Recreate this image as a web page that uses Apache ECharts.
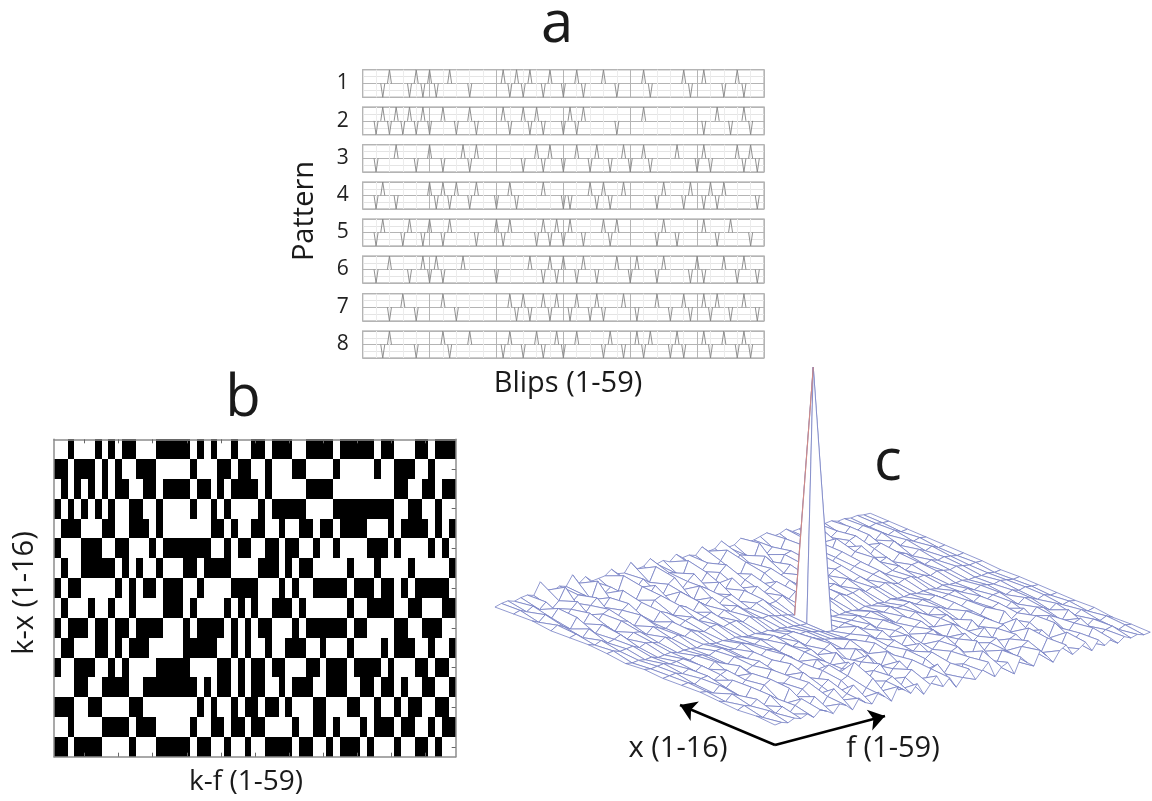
<!DOCTYPE html>
<html>
<head>
<meta charset="utf-8">
<style>html,body{margin:0;padding:0;background:#fff}#c{width:1152px;height:801px}</style>
<script src="https://cdn.jsdelivr.net/npm/echarts@6/dist/echarts.min.js"></script>
</head>
<body>
<div id="c"></div>
<script>
// ---------- Panel a: blip positions (0-based index on the 0..60 axis)
const patternNames = ['1','2','3','4','5','6','7','8'];
const p1Up = [4,8,10,13,21,23,25,28,32,36,42,48,51,56];
const p1Down = [3,7,9,11,16,22,24,27,30,33,38,43,49,54,57];
const p2Up = [3,5,7,9,12,16,21,24,26,31,33,42,53,57];
const p2Down = [2,4,6,8,10,14,17,22,25,27,30,32,38,51,55,58];
const p3Up = [5,10,15,17,26,28,32,35,39,42,47,51,56,58];
const p3Down = [2,8,12,16,24,27,30,34,37,40,43,50,52,57,59];
const p4Up = [3,10,12,14,17,22,27,34,36,39,45,49,52,54];
const p4Down = [2,5,11,13,16,20,23,30,31,35,37,44,48,51,53,59];
const p5Up = [3,7,10,13,20,22,27,29,31,36,38,45,51,55];
const p5Down = [2,6,9,12,17,21,26,28,30,33,37,44,47,53,58];
const p6Up = [4,9,11,15,25,28,30,33,38,41,45,50,54,57];
const p6Down = [2,7,10,12,20,27,29,32,35,40,44,49,51,56,59];
const p7Up = [6,12,22,24,27,29,32,35,39,44,48,51,53,57];
const p7Down = [4,8,14,23,25,28,31,34,36,41,46,49,52,55,59];
const p8Up = [4,12,16,22,26,29,32,37,41,43,47,51,54,57];
const p8Down = [3,8,13,21,24,27,30,36,39,42,46,48,52,56,58];
const allUp = [p1Up,p2Up,p3Up,p4Up,p5Up,p6Up,p7Up,p8Up];
const allDown = [p1Down,p2Down,p3Down,p4Down,p5Down,p6Down,p7Down,p8Down];

// ---------- Panel b: black columns of each of the 16 k-x rows
const r = (a,b)=>{const o=[];for(let i=a;i<=b;i++)o.push(i);return o;};
const bRow0 = [2,6,8,10,11,...r(15,19),21,23,26,29,30,32,33,34,...r(37,40),...r(42,46),48,49,53,54,56,57,58];
const bRow1 = [0,1,3,4,5,7,9,12,13,14,20,24,25,27,28,31,35,36,41,47,50,51,52,55];
const bRow2 = [1,3,5,7,9,10,13,14,...r(16,19),21,22,24,...r(26,29),31,...r(37,40),50,51,54,55,57,58];
const bRow3 = [0,2,4,6,8,11,12,15,20,23,25,30,...r(32,36),...r(41,49),52,53,56];
const bRow4 = [1,2,3,7,8,11,12,13,15,23,24,26,29,30,33,36,37,39,40,42,43,44,45,49,51,52,53,54,56,58];
const bRow5 = [0,4,5,6,9,10,14,...r(16,22),25,27,28,31,32,34,35,38,41,46,47,48,50,55,57];
const bRow6 = [1,...r(4,8),10,12,15,19,20,22,23,24,25,30,31,32,34,36,37,43,47,52,58];
const bRow7 = [0,2,3,9,11,13,14,16,17,18,21,...r(26,29),33,35,...r(38,42),44,45,46,48,49,51,...r(53,57)];
const bRow8 = [1,5,8,11,16,17,18,20,25,27,29,32,33,34,36,43,46,47,48,49,52,53,57,58];
const bRow9 = [0,2,3,4,6,7,9,10,12,13,14,15,19,...r(21,24),26,28,30,31,35,...r(37,42),44,45,50,51,54,55,56];
const bRow10 = [1,2,6,7,9,11,12,13,...r(19,23),26,28,31,34,35,36,39,43,48,50,51,52,55,58];
const bRow11 = [0,3,4,5,8,10,...r(15,19),24,25,27,29,30,32,33,37,38,40,41,42,...r(44,47),49,53,54,56,57];
const bRow12 = [3,4,...r(7,10),...r(13,20),22,24,25,27,29,30,33,35,36,37,40,41,42,45,46,48,49,51,54,55,58];
const bRow13 = [0,1,2,5,6,11,12,21,23,26,28,29,31,32,34,38,39,43,44,47,50,52,53,56,57];
const bRow14 = [2,...r(7,10),12,13,14,20,23,24,26,27,29,30,35,38,39,41,45,47,48,49,51,52,55,57,58];
const bRow15 = [0,1,...r(3,6),11,...r(15,19),21,22,25,28,...r(31,34),36,37,40,42,43,44,46,50,53,54,56];
const bRows = [bRow0,bRow1,bRow2,bRow3,bRow4,bRow5,bRow6,bRow7,bRow8,bRow9,bRow10,bRow11,bRow12,bRow13,bRow14,bRow15];
const kfCategories = r(1,59).map(String);
const kxCategories = r(1,16).map(String);

// ---------- Panel c: estimated surface heights, one array per x row, 59 f values
const z0 = [0,1,-1,2,0,3,-2,4,1,-3,5,2,-4,6,0,-3,7,1,-5,8,3,-2,6,-6,2,9,-3,4,-7,1,8,-4,3,10,-6,2,5,-8,7,0,-5,9,2,-6,4,8,-3,1,6,-4,5,-2,3,-3,2,-1,1,-1,0];
const z1 = [1,-2,3,-1,4,-5,2,7,-3,6,-6,3,9,-4,1,8,-7,2,10,-5,4,7,-8,3,9,-2,-6,5,8,-3,6,-9,2,7,-4,10,-1,-7,6,3,-8,5,9,-3,-6,7,1,-5,8,-2,4,-6,6,-3,1,3,-2,1,0];
const z2 = [-1,2,0,5,-3,6,1,-6,8,-2,4,9,-5,2,7,-8,3,6,18,9,-4,5,10,-7,2,8,-3,6,-9,4,9,-2,-7,5,8,1,-6,9,-3,4,7,-8,3,6,-5,9,-2,4,-6,8,1,-5,3,6,-3,2,-1,2,-1];
const z3 = [0,-2,4,1,-4,6,-3,5,9,-6,2,7,-4,8,1,-7,5,9,-3,2,7,-6,4,9,-2,-5,8,3,-7,5,2,8,-5,-1,6,9,-6,3,7,-4,1,8,-7,4,6,-3,9,-5,2,7,-6,4,1,-4,5,-2,2,-1,1];
const z4 = [1,0,-3,3,-1,5,-4,2,7,-2,-5,6,1,-3,7,-1,4,-6,5,2,-4,7,0,-5,6,3,-2,7,-6,1,5,-3,7,2,-6,4,6,-1,-5,7,3,-4,6,-2,5,1,-6,7,-3,2,5,-4,3,1,-3,2,-1,1,0];
const z5 = [0,1,-2,2,3,-3,1,4,-4,5,-1,2,5,-4,3,-2,5,1,-5,3,4,-3,1,5,-2,-4,4,2,-5,3,-1,5,-3,2,4,-5,1,5,-2,-4,3,5,-1,-4,4,2,-5,3,1,4,-3,2,-2,3,1,-2,1,-1,0];
const z6 = [-1,0,1,-1,2,-2,2,-3,3,0,-3,3,1,-2,3,-3,2,1,-3,3,-1,2,-3,3,0,-2,-3,-4,-5,-3,3,-1,2,-3,3,1,-3,2,-2,3,0,-3,3,1,-2,3,-3,2,-1,3,-2,1,2,-2,1,-1,1,0,0];
const z7 = [0,-1,0,1,-1,0,1,-2,1,0,-2,1,2,-1,-2,2,0,-2,1,-1,2,-2,0,1,-3,-2,-4,-5,-7,-8,-6,-3,-2,1,-2,2,0,-2,2,-1,0,2,-2,1,-1,2,-2,0,2,-1,1,-2,1,0,-1,1,0,-1,0];
const z8 = [-2,-3,-2,-3,-2,-4,-3,-2,-4,-3,-3,-4,-2,-3,-4,-3,-4,-3,-4,-5,-4,-5,-4,-6,-5,-6,-6,-7,-7,248,-7,-7,-6,-6,-5,-5,-6,-4,-5,-4,-5,-3,-4,-4,-3,-4,-3,-3,-4,-2,-3,-3,-2,-3,-2,-2,-1,-2,-1];
const z9 = [0,1,-1,0,1,-2,1,0,-2,2,-1,1,-2,2,0,-2,1,2,-2,0,1,-2,2,-1,-3,-2,-4,-5,-6,-8,-7,-5,-3,-2,1,-2,2,-1,0,2,-2,1,-1,2,0,-2,1,2,-1,0,-2,1,0,-1,1,0,-1,0,0];
const z10 = [1,-1,2,-2,0,3,-3,2,1,-3,3,0,-2,3,-3,1,3,-2,0,3,-3,2,-1,3,-2,-3,1,3,-3,-2,2,-3,3,0,-3,2,3,-2,1,-3,3,-1,2,-3,1,3,-2,0,3,-3,1,2,-2,1,-1,1,0,-1,0];
const z11 = [0,2,-3,4,-2,5,1,-5,4,2,-4,5,-2,-5,4,1,-3,5,2,-5,4,-1,5,-4,2,3,-5,4,-2,5,-3,1,5,-4,3,-2,5,1,-5,4,-2,3,5,-4,1,4,-3,5,-1,2,-4,3,1,-3,2,-1,2,-1,0];
const z12 = [-1,3,0,-4,6,-2,7,-5,3,6,-6,2,7,-3,5,-6,4,7,-2,-5,6,1,-6,7,3,-4,6,-2,7,-5,2,6,-6,4,7,-3,-1,6,-6,3,5,-2,7,-5,2,6,-4,3,7,-6,1,5,-3,4,-2,2,-1,1,0];
const z13 = [1,-2,4,-1,7,-5,3,9,-6,2,8,-3,5,-7,9,1,-4,8,-2,6,-7,4,9,-5,2,8,-3,6,-8,3,9,-1,-6,7,4,-5,8,1,-7,5,7,-3,9,-4,2,6,-6,8,-2,3,6,-5,4,-3,3,-1,2,-1,0];
const z14 = [0,2,-1,3,-2,4,-4,2,14,-3,3,1,-5,12,-2,3,-6,11,1,-4,3,-2,12,-5,3,1,-6,10,2,-4,3,-5,2,11,-4,3,1,-6,10,-3,3,-5,8,1,-4,3,1,-5,6,-2,3,-3,4,-2,2,-1,1,0,0];
const z15 = [-1,1,2,0,2,3,1,13,3,1,4,2,12,2,7,1,2,3,8,2,1,10,2,3,9,2,4,1,7,2,3,1,8,2,3,9,1,2,7,1,2,4,6,1,2,5,1,2,3,1,2,1,2,0,1,0,1,0,0];
const zRows = [z0,z1,z2,z3,z4,z5,z6,z7,z8,z9,z10,z11,z12,z13,z14,z15];

// ---------- layout constants
const font = '"Open Sans","Noto Sans",sans-serif';
const aTops = [69.7,107,144.7,182,219,256,293.7,331];
const aBottoms = [97.3,134.7,172,209,246,283,321,358];
const spikeHalf = 0.3;
const view = {ox:775, oy:725, ix:-18.67, iy:-7.93, jx:6.47, jy:-1.6};
function project(i,j){
  return [view.ox+i*view.ix+j*view.jx, view.oy+i*view.iy+j*view.jy-zRows[i][j]];
}

const grids=[], xAxes=[], yAxes=[], series=[];

patternNames.forEach((name,n)=>{
  grids.push({left:362.7,width:401.3,top:aTops[n],height:aBottoms[n]-aTops[n],show:true,borderColor:'#bcbcbc',borderWidth:1.4,backgroundColor:'#fff'});
  xAxes.push({type:'value',gridIndex:n,min:0,max:60,interval:10,
    axisLine:{show:false},axisTick:{show:false},axisLabel:{show:false},
    splitLine:{show:true,lineStyle:{color:'#b4b4b4',width:1}},
    minorTick:{show:false,splitNumber:5},
    minorSplitLine:{show:true,lineStyle:{color:'#ececec',width:1}}});
  yAxes.push({type:'value',gridIndex:n,min:-1,max:1,interval:1,
    name:name,nameLocation:'middle',nameGap:14,nameRotate:0,
    nameTextStyle:{fontFamily:font,fontSize:21,color:'#222'},
    axisLine:{show:false},axisTick:{show:false},axisLabel:{show:false},
    splitLine:{show:true,lineStyle:{color:'#b4b4b4',width:1.2}},
    minorTick:{show:false,splitNumber:2},
    minorSplitLine:{show:true,lineStyle:{color:'#e4e4e4',width:1}}});
  const marks=[...allUp[n].map(k=>[k,1]),...allDown[n].map(k=>[k,-1])].sort((a,b)=>a[0]-b[0]);
  const pts=[];
  marks.forEach(([k,v])=>{pts.push([k-spikeHalf,0],[k,v],[k+spikeHalf,0],[k+spikeHalf,null]);});
  series.push({type:'line',xAxisIndex:n,yAxisIndex:n,data:pts,showSymbol:false,silent:true,z:3,connectNulls:false,
    lineStyle:{color:'#858585',width:0.9},animation:false});
});

// Panel b
const hIdx=8;
grids.push({left:54,width:401.7,top:439.3,height:317.4,show:false});
const tick5=(i)=>(i+1)%5===0, tick2=(i)=>(i+1)%2===0;
const bAxisLine={show:true,lineStyle:{color:'#8c8c8c',width:1.5}};
xAxes.push({type:'category',gridIndex:hIdx,data:kfCategories,position:'bottom',z:5,
  axisLine:bAxisLine,axisLabel:{show:false},splitLine:{show:false},
  axisTick:{show:true,inside:true,length:4,alignWithLabel:true,interval:tick5,lineStyle:{color:'#666'}}});
xAxes.push({type:'category',gridIndex:hIdx,data:kfCategories,position:'top',z:5,
  axisLine:bAxisLine,axisLabel:{show:false},splitLine:{show:false},
  axisTick:{show:true,inside:true,length:4,alignWithLabel:true,interval:tick5,lineStyle:{color:'#666'}}});
yAxes.push({type:'category',gridIndex:hIdx,data:kxCategories,inverse:true,position:'left',z:5,
  axisLine:bAxisLine,axisLabel:{show:false},axisTick:{show:false},splitLine:{show:false}});
yAxes.push({type:'category',gridIndex:hIdx,data:kxCategories,inverse:true,position:'right',z:5,
  axisLine:bAxisLine,axisLabel:{show:false},splitLine:{show:false},
  axisTick:{show:true,inside:true,length:4,alignWithLabel:true,interval:tick2,lineStyle:{color:'#666'}}});
const bData=[];
bRows.forEach((cols,row)=>cols.forEach(c=>bData.push([c,row])));
series.push({type:'custom',xAxisIndex:hIdx,yAxisIndex:hIdx,data:bData,silent:true,animation:false,z:2,
  encode:{x:0,y:1},
  renderItem(params,api){
    const p=api.coord([api.value(0),api.value(1)]);
    const s=api.size([1,1]);
    const x0=Math.round(p[0]-s[0]/2), x1=Math.round(p[0]+s[0]/2);
    const y0=Math.round(p[1]-s[1]/2), y1=Math.round(p[1]+s[1]/2);
    return {type:'rect',shape:{x:x0,y:y0,width:x1-x0,height:y1-y0},style:{fill:'#000'}};
  }});

// Panel c: full-page pixel grid for the projected surface
const sxIdx=10, syIdx=10;
grids.push({left:0,top:0,width:1152,height:801,show:false});
xAxes.push({type:'value',gridIndex:9,min:0,max:1152,show:false});
yAxes.push({type:'value',gridIndex:9,min:0,max:801,inverse:true,show:false});
const quads=[];
for(let i=zRows.length-2;i>=0;i--){for(let j=z0.length-2;j>=0;j--){quads.push([i,j]);}}
series.push({type:'custom',xAxisIndex:sxIdx,yAxisIndex:syIdx,data:quads,silent:true,animation:false,z:4,clip:false,
  encode:{x:[],y:[]},
  renderItem(params,api){
    const i=api.value(0), j=api.value(1);
    const points=[project(i,j),project(i+1,j),project(i+1,j+1),project(i,j+1)].map(p=>api.coord(p));
    return {type:'polygon',shape:{points},style:{fill:'#fff',stroke:'#7680c4',lineWidth:0.8}};
  }});
// red edge of the peak
series.push({type:'line',xAxisIndex:sxIdx,yAxisIndex:syIdx,data:[project(8,29),project(9,29)],showSymbol:false,silent:true,animation:false,z:5,
  lineStyle:{color:'#d08a86',width:1.1}});
// direction arrows
series.push({type:'line',xAxisIndex:sxIdx,yAxisIndex:syIdx,data:[],silent:true,animation:false,z:6,
  markLine:{silent:true,animation:false,symbol:['none','arrow'],symbolSize:16,label:{show:false},
    lineStyle:{color:'#000',width:2.5,type:'solid'},
    data:[[{coord:[775,745]},{coord:[680,705]}],[{coord:[775,745]},{coord:[885,716]}]]}});

const titleText=(text,x,y,size)=>({text,left:x,top:y,textAlign:'center',textVerticalAlign:'middle',padding:0,
  textStyle:{fontFamily:font,fontWeight:'normal',fontSize:size,color:'#1a1a1a'}});
const rotatedText=(text,x,y,size)=>({type:'text',x,y,rotation:Math.PI/2,z:10,
  style:{text,font:size+'px '+font,fill:'#1a1a1a',align:'center',verticalAlign:'middle'}});

const chart=echarts.init(document.getElementById('c'),null,{renderer:'canvas'});
chart.setOption({
  animation:false,backgroundColor:'#fff',
  title:[titleText('a',557,25,58),titleText('b',243,399,58),titleText('c',888,463,58),
    titleText('Blips (1-59)',568,384,29),titleText('x (1-16)',678,749,29),titleText('f (1-59)',893,749,29),
    titleText('k-f (1-59)',246,782,28)],
  graphic:[rotatedText('Pattern',305,211,29),rotatedText('k-x (1-16)',25,593,29)],
  grid:grids,xAxis:xAxes,yAxis:yAxes,series
});
</script>
</body>
</html>
